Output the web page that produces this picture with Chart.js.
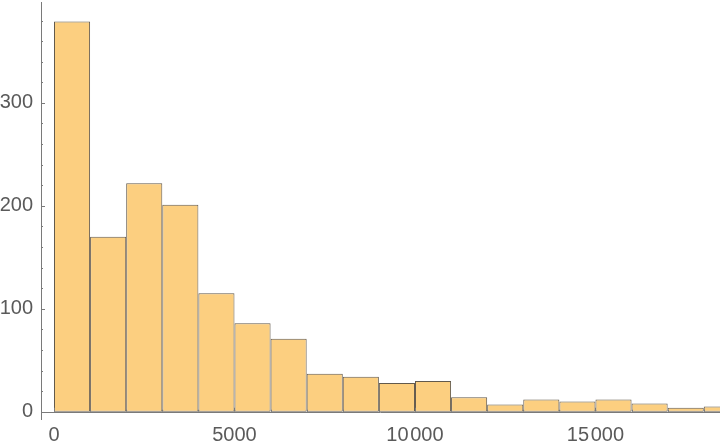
<!DOCTYPE html>
<html><head><meta charset="utf-8">
<script src="https://cdn.jsdelivr.net/npm/chart.js@4/dist/chart.umd.min.js"></script>
<style>html,body{margin:0;padding:0;background:#fff}#wrap{width:720px;height:444px}</style>
</head><body><div id="wrap"><canvas id="c" width="720" height="444"></canvas></div>
<script>
// Histogram bins (left edges) and counts
const binStarts = [0,1000,2000,3000,4000,5000,6000,7000,8000,9000,10000,11000,12000,13000,14000,15000,16000,17000,18000];
const counts    = [379,170,222,201,115,86,71,37,34,28,30,14,7,12,10,12,8,4,5];
const binWidth = 1000;
const xTickValues = [0,5000,10000,15000];
const xMinorTicks = [1000,2000,3000,4000,6000,7000,8000,9000,11000,12000,13000,14000,16000,17000,18000];
const yTickValues = [0,100,200,300];
const yMinorTicks = [20,40,60,80,120,140,160,180,220,240,260,280,320,340,360,380];

const fmt = v => v >= 10000 ? String(v).replace(/(\d+)(\d{3})$/, '$1\u200A$2') : String(v);

const axisPlugin = {
  id: 'axisPlugin',
  afterDatasetsDraw(chart) {
    const {ctx, chartArea, scales: {x, y}} = chart;
    const y0 = y.getPixelForValue(0);
    ctx.save();
    ctx.strokeStyle = '#7a7a7a';
    ctx.lineWidth = 1;
    ctx.beginPath();
    ctx.moveTo(chartArea.left, Math.round(y0) + 0.5);
    ctx.lineTo(chartArea.right, Math.round(y0) + 0.5);
    ctx.moveTo(chartArea.left + 0.5, chartArea.top);
    ctx.lineTo(chartArea.left + 0.5, chartArea.bottom);
    yTickValues.forEach(v => {
      const p = Math.round(y.getPixelForValue(v)) + 0.5;
      ctx.moveTo(chartArea.left, p); ctx.lineTo(chartArea.left + 4, p);
    });
    yMinorTicks.forEach(v => {
      const p = Math.round(y.getPixelForValue(v)) + 0.5;
      ctx.moveTo(chartArea.left, p); ctx.lineTo(chartArea.left + 2, p);
    });
    xTickValues.forEach(v => {
      const p = Math.round(x.getPixelForValue(v)) + 0.5;
      ctx.moveTo(p, y0); ctx.lineTo(p, y0 - 4);
    });
    xMinorTicks.forEach(v => {
      const p = Math.round(x.getPixelForValue(v)) + 0.5;
      ctx.moveTo(p, y0); ctx.lineTo(p, y0 - 2);
    });
    ctx.stroke();
    ctx.restore();
  }
};

new Chart(document.getElementById('c'), {
  type: 'bar',
  data: {
    datasets: [{
      data: binStarts.map((s, i) => ({x: s + binWidth / 2, y: counts[i]})),
      backgroundColor: '#FCCF80',
      borderColor: 'rgba(90,80,66,0.95)',
      borderWidth: 1,
      borderSkipped: false,
      barPercentage: 1,
      categoryPercentage: 1,
      inflateAmount: 0
    }]
  },
  options: {
    responsive: false,
    animation: false,
    events: [],
    layout: {padding: {top: 2, left: 0, right: 0, bottom: 0}},
    plugins: {legend: {display: false}, tooltip: {enabled: false}},
    scales: {
      x: {
        type: 'linear',
        offset: false,
        min: -360, max: 18450,
        grid: {display: false, drawTicks: false, offset: false},
        border: {display: false},
        afterBuildTicks: s => { s.ticks = xTickValues.map(v => ({value: v})); },
        afterFit: s => { s.height = 24; s.paddingLeft = 0; s.paddingRight = 0; },
        ticks: {
          padding: 3,
          color: '#5a5a5a',
          font: {family: 'Liberation Sans, Arial, sans-serif', size: 20},
          maxRotation: 0, autoSkip: false,
          callback: v => fmt(v)
        }
      },
      y: {
        min: -8, max: 398,
        grid: {display: false, drawTicks: false},
        border: {display: false},
        afterBuildTicks: s => { s.ticks = yTickValues.map(v => ({value: v})); },
        afterFit: s => { s.width = 41; s.paddingTop = 0; s.paddingBottom = 0; },
        ticks: {
          padding: 8,
          color: '#5a5a5a',
          font: {family: 'Liberation Sans, Arial, sans-serif', size: 20},
          callback: v => fmt(v)
        }
      }
    }
  },
  plugins: [axisPlugin]
});
</script>
</body></html>
